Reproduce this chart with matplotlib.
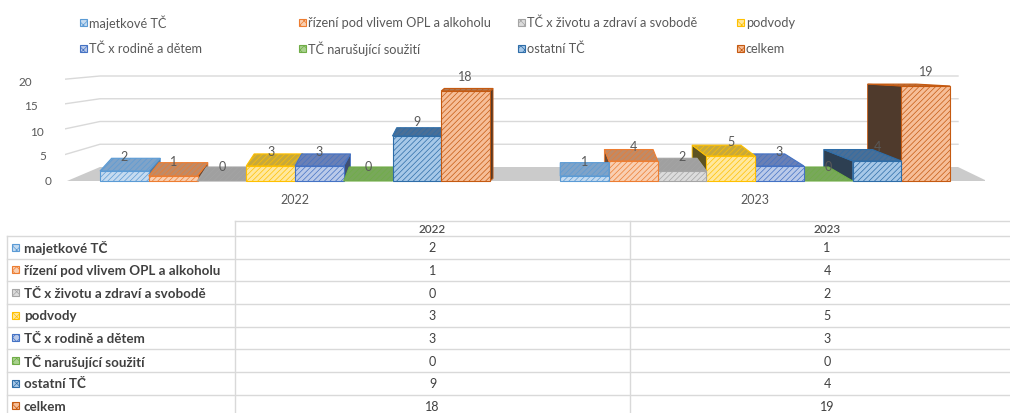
import matplotlib
matplotlib.use('Agg')
import matplotlib.pyplot as plt
from matplotlib.patches import Polygon, Rectangle
from matplotlib.lines import Line2D

years = ['2022', '2023']
categories = ['majetkové TČ', 'řízení pod vlivem OPL a alkoholu', 'TČ x životu a zdraví a svobodě',
              'podvody', 'TČ x rodině a dětem', 'TČ narušující soužití', 'ostatní TČ', 'celkem']
values_2022 = [2, 1, 0, 3, 3, 0, 9, 18]
values_2023 = [1, 4, 2, 5, 3, 0, 4, 19]
yticks = [0, 5, 10, 15, 20]

# styles
face = ['#C5DBF0', '#F9CFB2', '#DCDCDC', '#FFE89E', '#BACAE9', '#A9D18E', '#A7C8E8', '#F6BE98']
line = ['#5B9BD5', '#ED7D31', '#A5A5A5', '#FFC000', '#4472C4', '#70AD47', '#2E6DA8', '#C55A11']
top = ['#7FA3C8', '#C08A66', '#A0A0A0', '#C8A93A', '#6A80B5', '#78A85A', '#4A6F96', '#B07A55']
side = ['#5C7A99', '#6E4A33', '#6F6F6F', '#5E5320', '#3F4F73', '#4C6E38', '#2D3F52', '#4F3A2C']
txt = '#595959'
grid = '#D9D9D9'

plt.rcParams['font.family'] = ['Lato', 'DejaVu Sans']
plt.rcParams['hatch.linewidth'] = 0.5

W, H = 1010, 414


def px2x(px):
    # chart pixel -> bar slot units (first bar left edge at px 100, 48.75 px per bar)
    return -0.5 + (px - 100) / 48.75


fig = plt.figure(figsize=(W / 100, H / 100), dpi=100)
ax = fig.add_axes([65 / W, 204 / H, 920 / W, 150 / H])
ax.set_xlim(px2x(65), px2x(985))
ax.set_ylim(-5.6, 24.4)
ax.axis('off')

back = 2.8  # floor depth in value units
# floor
ax.add_patch(Polygon([(px2x(67), 0), (px2x(100), back), (px2x(958), back), (px2x(987), 0)],
                     fc='#CBCBCB', ec='none', zorder=1))
# back wall gridlines + y labels
for v in yticks:
    if v > 0:
        yb = back + 0.91 * v
        ax.plot([px2x(65 - v), px2x(100), px2x(958)], [v, yb, yb], color=grid, lw=1, zorder=0)
    ax.text(px2x(48 - 1.15 * v), v, str(v), ha='center', va='center', fontsize=8.5, color=txt)

group_offset = 9.44
vp = 9.5
for g, vals in enumerate([values_2022, values_2023]):
    for i, v in enumerate(vals):
        xc = g * group_offset + i
        k = 0.025 if xc < vp else 0.1
        dx = -(xc - vp) * k
        dy = back * (1 - v / 22)
        z = 20 - abs(xc - vp)
        x0, x1 = xc - 0.5, xc + 0.5
        sx = x0 if dx < 0 else x1
        if v > 0:
            ax.add_patch(Polygon([(sx, 0), (sx, v), (sx + dx, v + dy), (sx + dx, dy)],
                                 fc=side[i], ec=line[i], lw=0.6, zorder=z))
            ax.bar(xc, v, width=1, color=face[i], edgecolor=line[i], hatch='//////',
                   lw=0.8, zorder=z + 0.1)
        ax.add_patch(Polygon([(x0, v), (x0 + dx, v + dy), (x1 + dx, v + dy), (x1, v)],
                             fc=top[i], ec=line[i], hatch='//////', lw=0.8, zorder=z + 0.2))
        ax.text(xc, v + 3, str(v), ha='center', va='center', fontsize=9, color=txt, zorder=60)
    ax.text(g * group_offset + 3.5, -3.6, years[g], ha='center', va='center', fontsize=9, color=txt)


def fx(px):
    return px / W


def fy(py):
    return 1 - py / H


def marker(px, py, i, s=7):
    fig.add_artist(Rectangle((fx(px - s / 2), fy(py + s / 2)), s / W, s / H, transform=fig.transFigure,
                             fc=face[i], ec=line[i], hatch='xxxx', lw=0.8))


# legend
for i, name in enumerate(categories):
    col, row = i % 4, i // 4
    px, py = 83 + 219 * col, 23 + 26 * row
    marker(px, py, i)
    fig.text(fx(px + 6), fy(py), name, ha='left', va='center', fontsize=9.2, color=txt)

# data table
row_h = 22.65
y_head = 222
y0 = 237
x_cols = [7, 235, 630, W + 14]
fig.add_artist(Line2D([fx(235), fx(W)], [fy(y_head), fy(y_head)], color=grid, lw=1))
for r in range(len(categories)):
    yy = y0 + row_h * r
    fig.add_artist(Line2D([fx(7), fx(W)], [fy(yy), fy(yy)], color=grid, lw=1))
fig.add_artist(Line2D([fx(7), fx(7)], [fy(y0), 0], color=grid, lw=1))
for xc in [235, 630]:
    fig.add_artist(Line2D([fx(xc), fx(xc)], [fy(y_head), 0], color=grid, lw=1))

for g, yr in enumerate(years):
    cx = (x_cols[g + 1] + x_cols[g + 2]) / 2
    fig.text(fx(cx), fy((y_head + y0) / 2), yr, ha='center', va='center', fontsize=8.5,
             color='#505050', fontweight='semibold')

for r, name in enumerate(categories):
    cy = y0 + row_h * (r + 0.5)
    marker(15, cy, r)
    fig.text(fx(24), fy(cy), name, ha='left', va='center', fontsize=9.6, color='#404040', fontweight='bold')
    for g, vals in enumerate([values_2022, values_2023]):
        cx = (x_cols[g + 1] + x_cols[g + 2]) / 2
        fig.text(fx(cx), fy(cy), str(vals[r]), ha='center', va='center', fontsize=9, color='#404040')

fig.savefig('out.png', dpi=100)
